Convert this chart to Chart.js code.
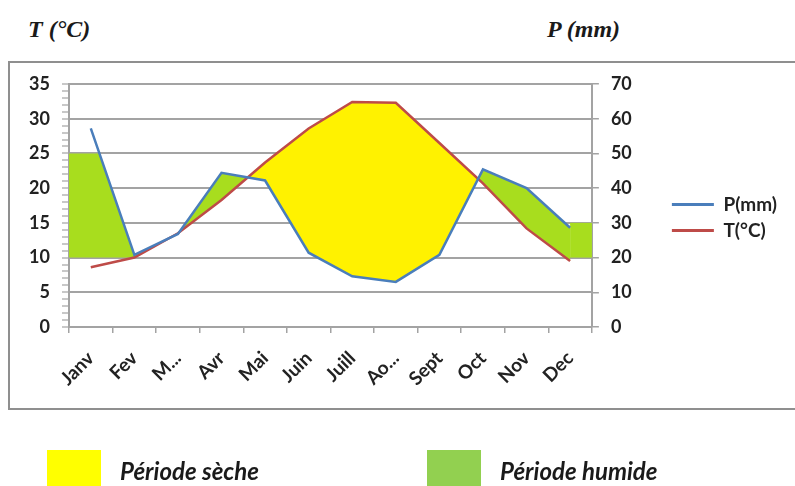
<!DOCTYPE html>
<html>
<head>
<meta charset="utf-8">
<script src="https://cdn.jsdelivr.net/npm/chart.js@4.4.1/dist/chart.umd.min.js"></script>
<style>
html,body{margin:0;padding:0;background:#fff;width:795px;height:486px;overflow:hidden;}
body{position:relative;}
.ttl{position:absolute;top:17px;font-family:"Liberation Serif",serif;font-weight:bold;font-style:italic;font-size:24px;line-height:1;color:#1a1a1a;white-space:nowrap;}
#box{position:absolute;left:8px;top:61px;width:800px;height:345px;border:2px solid #8f8f8f;}
#wrap{position:absolute;left:0;top:0;width:795px;height:486px;}
.sw{position:absolute;top:450px;width:54px;height:40px;}
.lt{position:absolute;top:459px;font-family:Lato,sans-serif;font-weight:700;font-style:italic;font-size:24px;line-height:1;color:#1a1a1a;white-space:nowrap;}
</style>
</head>
<body>
<div class="ttl" style="left:28px">T (°C)</div>
<div class="ttl" style="left:547px">P (mm)</div>
<div id="box"></div>
<div id="wrap"><canvas id="c" width="795" height="486"></canvas></div>
<div class="sw" style="left:47px;background:#ffff00"></div>
<div class="lt" style="left:120px">Période sèche</div>
<div class="sw" style="left:427px;background:#92d050"></div>
<div class="lt" style="left:500px">Période humide</div>
<script>
// ---- data ----
const months = ['Janv','Fev','M...','Avr','Mai','Juin','Juill','Ao...','Sept','Oct','Nov','Dec'];
const precip = [57.2, 20.8, 26.8, 44.4, 42.2, 21.4, 14.6, 13.0, 20.8, 45.4, 40.0, 28.6];
const temp   = [8.6, 10.0, 13.5, 18.3, 23.7, 28.6, 32.4, 32.3, 26.5, 20.7, 14.2, 9.5];
const tempTickMax = 35;
const precipTickMax = 70;
const wetBandStart = [10, 25];   // °C band shaded at the start of the year
const wetBandEnd = [10, 15];     // °C band shaded at the end of the year

const GRID = '#a3a3a3';
const TXT = '#222222';
const BLUE = '#4a7ebb';
const RED = '#be4b48';
const YEL = '#fff200';
const GRN = '#a8dd1e';

// precipitation expressed on the temperature scale (P = 2T)
const half = precip.map(p => p / 2);
const n = months.length;

function betweenPolys(from) {
  const polys = [];
  const d = i => half[i] - temp[i];
  let top = [], bot = [], sign = null;
  for (let i = from; i < n; i++) {
    const s = d(i) >= 0 ? 1 : -1;
    if (sign === null) sign = s;
    top.push({x: i, y: temp[i]});
    bot.push({x: i, y: half[i]});
    if (i < n - 1) {
      const s2 = d(i + 1) >= 0 ? 1 : -1;
      if (s2 !== sign) {
        const t = d(i) / (d(i) - d(i + 1));
        const c = {x: i + t, y: temp[i] + (temp[i + 1] - temp[i]) * t};
        top.push(c);
        polys.push({sign, pts: top.concat(bot.reverse())});
        top = [c]; bot = [c]; sign = s2;
      }
    }
  }
  polys.push({sign, pts: top.concat(bot.reverse())});
  return polys;
}

// first wet area: between the band limits, left of the P curve
const tc = (half[0] - wetBandStart[1]) / (half[0] - half[1]);
const startPoly = [
  {x: -0.5, y: wetBandStart[1]}, {x: tc, y: wetBandStart[1]},
  {x: 1, y: Math.max(half[1], wetBandStart[0])}, {x: 1, y: wetBandStart[0]},
  {x: -0.5, y: wetBandStart[0]}
];
const endPoly = [
  {x: n - 1, y: wetBandEnd[0]}, {x: n - 0.5, y: wetBandEnd[0]},
  {x: n - 0.5, y: wetBandEnd[1]}, {x: n - 1, y: wetBandEnd[1]}
];

const fillSets = [];
function addPoly(pts, color) {
  fillSets.push({
    type: 'line', data: pts, xAxisID: 'x2', yAxisID: 'y',
    fill: 'shape', backgroundColor: color, borderWidth: 0, borderColor: 'rgba(0,0,0,0)',
    pointRadius: 0, tension: 0, order: 10, label: '_fill'
  });
}
addPoly(startPoly, GRN);
addPoly(endPoly, GRN);
betweenPolys(1).forEach(p => addPoly(p.pts, p.sign > 0 ? GRN : YEL));

const font = (s, extra) => Object.assign({family: 'Lato', size: s, weight: 'bold'}, extra || {});

new Chart(document.getElementById('c'), {
  type: 'line',
  data: {
    labels: months,
    datasets: [
      {label: 'P(mm)', data: precip, xAxisID: 'x', yAxisID: 'y2', borderColor: BLUE, backgroundColor: BLUE,
       borderWidth: 2.5, pointRadius: 0, tension: 0, fill: false, order: 0},
      {label: 'T(°C)', data: temp, xAxisID: 'x', yAxisID: 'y', borderColor: RED, backgroundColor: RED,
       borderWidth: 2.5, pointRadius: 0, tension: 0, fill: false, order: 1},
      ...fillSets
    ]
  },
  options: {
    responsive: false,
    animation: false,
    events: [],
    layout: {padding: {left: 10, right: 8, top: 84, bottom: 99}},
    scales: {
      x: {
        type: 'category', offset: true, position: 'bottom',
        grid: {offset: true, drawOnChartArea: false, color: GRID, tickLength: 6, lineWidth: 1.5},
        border: {color: GRID, width: 2},
        ticks: {color: TXT, font: font(19), minRotation: 45, maxRotation: 45, autoSkip: false, padding: 14},
        afterFit: s => { s.height = 60; }
      },
      x2: {type: 'linear', display: false, min: -0.5, max: n - 0.5},
      y: {
        type: 'linear', position: 'left', min: 0, max: tempTickMax,
        ticks: {stepSize: 1, autoSkip: false, color: TXT, font: font(18), padding: 12,
                callback: v => (v % 5 === 0 ? v : '')},
        grid: {color: c => (c.tick && c.tick.value % 5 === 0 ? GRID : 'rgba(0,0,0,0)'),
               lineWidth: 2, tickColor: GRID, tickWidth: 1.2, tickLength: 7},
        border: {color: GRID, width: 2},
        afterFit: s => { s.width = 59; }
      },
      y2: {
        type: 'linear', position: 'right', min: 0, max: precipTickMax,
        ticks: {stepSize: 10, color: TXT, font: font(18), padding: 12},
        grid: {drawOnChartArea: false, color: GRID, tickLength: 7, lineWidth: 1.5},
        border: {color: GRID, width: 2},
        afterFit: s => { s.width = 73; }
      }
    },
    plugins: {
      tooltip: {enabled: false},
      legend: {
        position: 'right', align: 'start',
        title: {display: true, text: ' ', padding: {top: 46, bottom: 46}, font: {size: 10}},
        labels: {
          boxWidth: 42, boxHeight: 3, padding: 7, color: TXT, font: font(19),
          filter: item => item.datasetIndex < 2,
          generateLabels: chart => {
            const items = Chart.defaults.plugins.legend.labels.generateLabels(chart);
            items.forEach(it => { it.fillStyle = it.strokeStyle; it.lineWidth = 0; });
            return items;
          }
        }
      }
    }
  }
});
</script>
</body>
</html>
